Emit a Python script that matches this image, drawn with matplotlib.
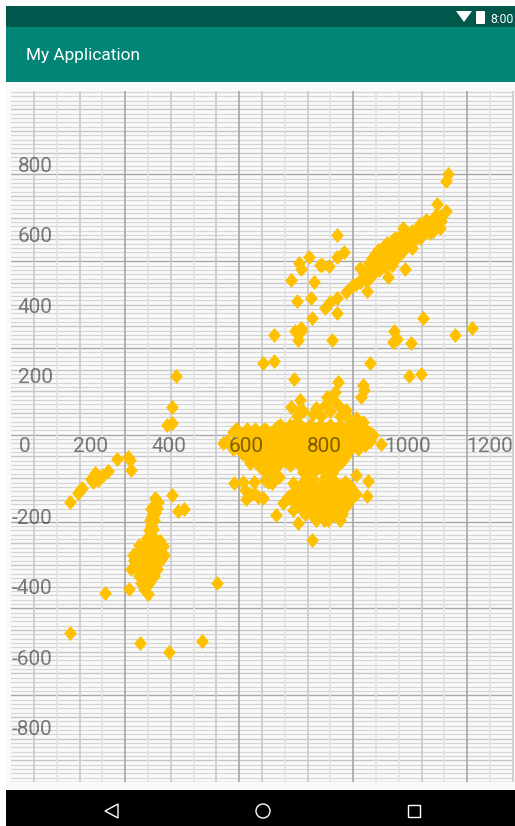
import matplotlib
matplotlib.use('Agg')
import matplotlib.pyplot as plt
from matplotlib.patches import Rectangle, Circle, Polygon, FancyBboxPatch

plt.rcParams['font.family'] = ['Roboto', 'DejaVu Sans']

W, H = 515, 826

x_tick_labels = ['0', '200', '400', '600', '800', '1000', '1200']
x_tick_pos = [30, 200, 400, 600, 800, 1014, 1224]  # labels are not evenly spaced in the screenshot
y_ticks = [800, 600, 400, 200, -200, -400, -600, -800]

# scatter values, one list pair per cluster
chain_x = [147, 168, 173, 178, 206, 212, 219, 232, 245, 268, 296, 300, 304, 200, 215, 225]
chain_y = [-159, -134, -125, -119, -102, -77, -97, -82, -71, -37, -31, -40, -68, -95, -90, -88]

stray_x = [237, 299, 147, 327, 401, 486, 524, 419, 409, 396, 409, 409, 424, 440]
stray_y = [-418, -406, -531, -560, -585, -554, -389, 199, 111, 60, 65, -139, -185, -179]

stem_x = [365, 372, 360, 370, 358, 362, 355, 350, 360, 353, 345, 365, 385, 378,
          330, 345, 360, 375, 310, 325, 340, 355, 370, 388, 315, 330, 345, 360, 375,
          305, 325, 340, 355, 370, 325, 335, 350, 362, 330, 340, 350, 337, 345, 347,
          318, 333, 350, 366, 380, 322, 337, 352, 367, 382, 315, 332, 348, 365,
          332, 345, 360, 338, 352, 320, 356, 365, 352, 350, 372,
          325, 338, 355, 372, 312, 328, 343, 358, 373, 340, 348, 358, 345, 342]
stem_y = [-148, -160, -170, -175, -195, -210, -225, -240, -235, -255, -262, -265, -285, -270,
          -290, -290, -290, -290, -310, -310, -310, -310, -310, -310, -330, -330, -330, -330, -330,
          -350, -350, -350, -350, -350, -370, -370, -370, -370, -390, -390, -390, -405, -395, -420,
          -300, -300, -300, -300, -300, -320, -320, -320, -320, -320, -340, -340, -340, -340,
          -360, -360, -360, -380, -380, -345, -180, -190, -210, -270, -280,
          -280, -280, -280, -275, -325, -325, -325, -325, -325, -378, -385, -350, -365, -345]

body_x = [540, 565, 601, 642, 678, 729, 924, 899, 855, 835, 806, 827, 835, 778, 737, 735, 714,
          722, 642, 670, 917, 899, 901, 893, 945, 1017, 1047, 801, 819,
          686, 712, 737, 763, 788, 814, 840, 865, 891,
          583, 609, 635, 660, 686, 712, 737, 763, 788, 814, 840, 865, 891, 916,
          550, 583, 609, 635, 660, 686, 712, 737, 763, 788, 814, 840, 865, 891, 916,
          565, 600, 640, 660, 686, 712, 737, 763, 788, 814, 840, 865, 885,
          600, 640, 665, 686, 712, 737, 763, 788, 814, 840, 853,
          609, 635, 660, 681, 712, 737, 763, 788, 814, 826,
          574, 622, 648, 673, 699, 725, 750, 776, 801, 827, 853, 878, 904,
          596, 622, 648, 673, 699, 725, 750, 776, 801, 827, 853, 878, 904,
          570, 596, 622, 648, 673, 699, 725, 750, 776, 801, 827, 853, 878, 904,
          588, 622, 648, 673, 699, 725, 750, 776, 801, 827, 853,
          622, 648, 673, 699, 725, 750, 776, 801, 827, 845,
          770, 790, 815, 840, 860, 880, 730, 745]
body_y = [9, 40, 48, 45, 54, 68, 31, 68, 102, 116, 139, 153, 182, 108, 131, 102, 111,
          190, 236, 241, 236, 173, 159, 139, 6, 199, 205, 116, 136,
          60, 60, 60, 60, 60, 60, 60, 60, 60,
          37, 37, 37, 37, 37, 37, 37, 37, 37, 37, 37, 37, 37, 37,
          14, 14, 14, 14, 14, 14, 14, 14, 14, 14, 14, 14, 14, 14, 14,
          -9, -9, -9, -9, -9, -9, -9, -9, -9, -9, -9, -9, -9,
          -31, -31, -31, -31, -31, -31, -31, -31, -31, -31, -31,
          -48, -60, -60, -54, -54, -54, -54, -54, -54, -54,
          48, 48, 48, 48, 48, 48, 48, 48, 48, 48, 48, 48, 48,
          25, 25, 25, 25, 25, 25, 25, 25, 25, 25, 25, 25, 25,
          2, 2, 2, 2, 2, 2, 2, 2, 2, 2, 2, 2, 2, 2,
          -20, -20, -20, -20, -20, -20, -20, -20, -20, -20, -20,
          -42, -42, -42, -42, -42, -42, -42, -42, -42, -42,
          90, 85, 100, 85, 80, 80, 85, 100]

under_x = [683, 568, 591, 596, 599, 619, 619, 642, 655, 665, 647, 719, 609, 630,
           770, 801, 819, 788, 763, 814, 745, 650, 665, 675, 745, 755, 800, 830, 770]
under_y = [-88, -105, -102, -125, -150, -102, -134, -148, -102, -105, -97, -105, -139, -145,
           -77, -88, -77, -60, -60, -48, -102, -75, -70, -85, -75, -90, -65, -60, -95]

lower_x = [827, 853, 724, 750, 776, 801, 827, 853, 870, 710, 740, 765, 790, 815, 840, 865,
           735, 760, 785, 810, 835, 855, 750, 775, 800, 825, 845, 778, 800,
           706, 693, 676, 732, 768, 912, 909, 881, 840, 809, 781, 719, 750, 865, 845, 716, 737,
           737, 763, 789, 815, 840, 866, 727, 752, 778, 803, 828, 853, 880,
           722, 752, 778, 803, 828, 853, 762, 787, 812, 830, 770, 790, 815]
lower_y = [-102, -102, -125, -125, -125, -125, -125, -125, -125, -148, -148, -148, -148, -148, -148, -148,
           -170, -170, -170, -170, -170, -170, -193, -193, -193, -193, -193, -210, -210,
           -145, -162, -196, -219, -267, -99, -142, -82, -210, -210, -205, -182, -182, -153, -182, -139, -125,
           -113, -113, -113, -113, -113, -113, -136, -136, -136, -136, -136, -136, -136,
           -159, -159, -159, -159, -159, -159, -182, -182, -182, -182, -200, -200, -200]

diag_x = [891, 904, 922, 937, 922, 942, 955, 961, 981, 973, 988, 1001, 1006, 1024, 1019, 1040,
          1060, 1070, 1058, 1083, 1091, 1076, 1045, 994, 968, 988, 1010, 1030, 1050, 1068,
          900, 915, 930, 945, 950, 965, 975, 985, 995, 1005, 1015, 1025, 1035, 1045, 1055,
          1065, 1075, 1085, 1095, 1095, 1040, 1000, 980, 960, 940, 925, 910, 880, 1085, 1100,
          935, 950, 968, 978, 992, 1008, 1022, 1034, 1050, 1062, 1078, 958, 972, 948]
diag_y = [466, 494, 534, 557, 506, 514, 543, 577, 591, 551, 543, 619, 571, 563, 599, 619,
          642, 605, 619, 651, 634, 628, 591, 571, 523, 585, 590, 600, 615, 625,
          480, 520, 545, 535, 565, 560, 585, 560, 600, 590, 575, 610, 590, 630, 605,
          625, 640, 625, 650, 620, 600, 550, 530, 530, 500, 490, 470, 460, 655, 640,
          520, 525, 545, 570, 570, 575, 590, 605, 612, 620, 612, 505, 515, 545]

upper_x = [1117, 1112, 1088, 1112, 832, 850, 832, 760, 735, 740, 788, 794, 812, 714, 773, 729, 765,
           768, 724, 740, 732, 670, 819, 832, 801, 814, 832, 855, 870, 909, 891, 963, 1006, 1053,
           978, 976, 986, 1022, 1135, 1178, 740]
upper_y = [773, 753, 688, 668, 599, 551, 537, 537, 520, 503, 514, 514, 511, 472, 466, 412, 420,
           364, 327, 335, 301, 315, 301, 378, 392, 409, 420, 438, 455, 440, 506, 480, 503, 364,
           327, 295, 304, 293, 315, 335, 327]

clusters = [(chain_x, chain_y), (stray_x, stray_y), (stem_x, stem_y), (body_x, body_y),
            (under_x, under_y), (lower_x, lower_y), (diag_x, diag_y), (upper_x, upper_y)]

# strength of each vertical grid line, left to right (0 light, 1 medium, 2 dark)
v_levels = [1, 0, 1, 0, 2, 0, 1, 0, 1, 2, 1, 0, 1, 0, 2, 0, 0, 1, 0, 2, 0, 1]
level_colors = ['#e2e2e2', '#cacaca', '#a6a6a6']

fig = plt.figure(figsize=(W / 100, H / 100), dpi=100, facecolor='white')


def px_rect(left, top, right, bottom):
    return [left / W, 1 - bottom / H, (right - left) / W, (bottom - top) / H]


# phone chrome, in pixel coordinates
chrome = fig.add_axes([0, 0, 1, 1], zorder=0)
chrome.set_xlim(0, W)
chrome.set_ylim(H, 0)
chrome.axis('off')
chrome.add_patch(Rectangle((6, 82), W - 6, 708, color='#fafafa', lw=0))
chrome.add_patch(Rectangle((6, 6), W - 6, 21, color='#00574b', lw=0))
chrome.add_patch(Rectangle((6, 27), W - 6, 55, color='#008577', lw=0))
chrome.add_patch(Rectangle((6, 790), W - 6, 36, color='black', lw=0))
chrome.text(26, 55.5, 'My Application', color='white', fontsize=12.4, va='center', ha='left')
chrome.text(490, 19.5, '8:00', color='white', fontsize=8.8, va='center', ha='left', clip_on=True)
chrome.add_patch(Polygon([(456, 11), (472, 11), (464, 22)], color='white', lw=0))
chrome.add_patch(FancyBboxPatch((477, 12), 7, 11, boxstyle='round,pad=1', color='white', lw=0))
chrome.add_patch(Polygon([(118, 804), (105, 811), (118, 818)], fill=False, ec='white', lw=1))
chrome.add_patch(Circle((263, 811), 7, fill=False, ec='white', lw=1))
chrome.add_patch(Rectangle((408, 805), 12, 12, fill=False, ec='white', lw=1))

# chart: x data 0 sits at px 12.5 with 0.39 px per unit, y data 0 at px 446 with 0.352 px per unit
ax = fig.add_axes(px_rect(11, 91, 514, 782), zorder=1)
ax.patch.set_alpha(0)
ax.set_xlim(-3.85, 1285.9)
ax.set_ylim(-954.5, 1008.5)

for idx in range(160):
    y_line = -954.5 + idx * 12.33
    if idx % 20 == 0:
        color, width = '#a8a8a8', 1.0
    elif idx % 5 == 0:
        color, width = '#c6c6c6', 1.0
    else:
        color, width = '#d6d6d6', 0.9
    ax.axhline(y_line, color=color, lw=width, zorder=1)

for idx, level in enumerate(v_levels):
    ax.axvline(55.1 + idx * 58.46, color=level_colors[level], lw=1.2, zorder=1.2)

diamond = [(0, 1), (0.85, 0), (0, -1), (-0.85, 0), (0, 1)]
for xs, ys in clusters:
    ax.plot(xs, ys, ls='none', marker=diamond, markersize=10.8, color='#ffc000', mew=0, zorder=2)

ax.set_axisbelow(False)
ax.spines['bottom'].set_position(('data', 0))
ax.spines['left'].set_position(('data', 102.6))
for spine in ax.spines.values():
    spine.set_color('none')
ax.set_xticks(x_tick_pos, x_tick_labels)
ax.set_yticks(y_ticks, [str(v) for v in y_ticks])
ax.tick_params(axis='both', length=0, pad=0, labelsize=15, labelcolor=(0, 0, 0, 0.5))
for label in ax.get_xticklabels():
    label.set_verticalalignment('center')

fig.savefig('out.png', dpi=100)
